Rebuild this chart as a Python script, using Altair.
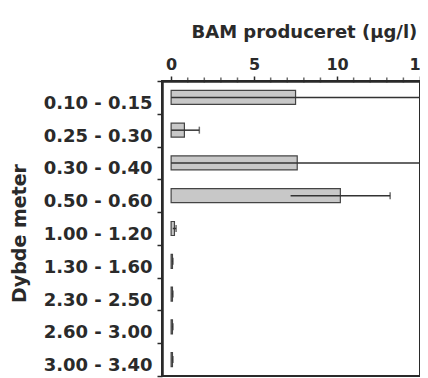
import altair as alt
import pandas as pd

depths = ["0.10 - 0.15", "0.25 - 0.30", "0.30 - 0.40", "0.50 - 0.60",
          "1.00 - 1.20", "1.30 - 1.60", "2.30 - 2.50", "2.60 - 3.00", "3.00 - 3.40"]
means = [7.5, 0.8, 7.6, 10.2, 0.2, 0.08, 0.08, 0.08, 0.08]
errs = [9.0, 0.9, 9.0, 3.0, 0.1, 0.03, 0.03, 0.03, 0.03]
major_ticks = [0, 5, 10, 15]
minor_ticks = [1, 2, 3, 4, 6, 7, 8, 9, 11, 12, 13, 14]

df = pd.DataFrame({"depth": depths, "mean": means, "err": errs})
df["lo"] = (df["mean"] - df["err"]).clip(lower=0)
df["hi"] = df["mean"] + df["err"]
df["zero"] = 0.0
minor_df = pd.DataFrame({"v": minor_ticks})

FONT = "DejaVu Sans"
INK = "#2a2a2a"

xscale = alt.Scale(domain=[-0.55, 15], nice=False, zero=False)
yscale = alt.Scale(domain=depths, paddingInner=0, paddingOuter=0)

xaxis = alt.Axis(
    orient="top", values=major_ticks, grid=False, labelOverlap=False,
    tickSize=5, tickColor=INK, tickWidth=1.5, domainColor=INK, domainWidth=2.5,
    labelFont=FONT, labelFontWeight="bold", labelFontSize=16, labelColor=INK,
    labelPadding=4, labelFlush=False,
    title="BAM produceret (µg/l)", titleFont=FONT, titleFontSize=18,
    titleFontWeight="bold", titleColor=INK, titleAlign="left",
    titleX=29, titleY=-44, titleBaseline="alphabetic",
)
yaxis = alt.Axis(
    grid=False, tickBand="extent", tickSize=5, tickColor=INK, tickWidth=1.5,
    domainColor=INK, domainWidth=2.5,
    labelFont=FONT, labelFontWeight="bold", labelFontSize=18, labelColor=INK,
    labelPadding=5, labelOffset=6,
    title="Dybde meter", titleFont=FONT, titleFontSize=19, titleFontWeight="bold",
    titleColor=INK, titleX=-143, titleY=152, titleAngle=-90,
    titleAlign="center", titleBaseline="middle",
)

base = alt.Chart(df)

bars = base.mark_bar(size=14, fill="#c8c8c8", stroke="#444444",
                     strokeWidth=1.2, clip=True).encode(
    x=alt.X("zero:Q", scale=xscale, axis=xaxis),
    x2="mean:Q",
    y=alt.Y("depth:N", scale=yscale, sort=depths, axis=yaxis),
)
rules = base.mark_rule(color="#333333", strokeWidth=1.5, clip=True).encode(
    x="lo:Q", x2="hi:Q", y=alt.Y("depth:N", sort=depths),
)
caps = base.mark_tick(color="#333333", thickness=1.5, size=7, clip=True).encode(
    x="hi:Q", y=alt.Y("depth:N", sort=depths),
)
minor = alt.Chart(minor_df).mark_tick(color=INK, thickness=1.5, size=5,
                                      orient="vertical").encode(
    x=alt.X("v:Q"), y=alt.value(-1),
)

chart = alt.layer(bars, rules, caps, minor).properties(
    width=258, height=295,
    autosize=alt.AutoSizeParams(type="none"),
    padding={"left": 154, "top": 73, "right": 0, "bottom": 2},
).configure_view(stroke=INK, strokeWidth=2)

chart.save("out.html", embed_options={"renderer": "svg", "actions": False})
